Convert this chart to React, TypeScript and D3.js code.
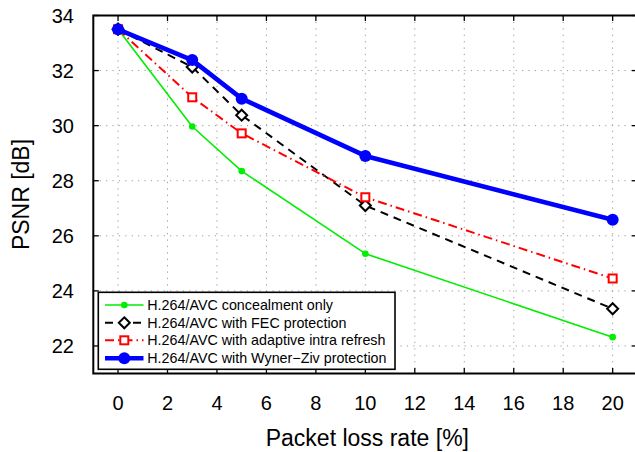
import React from "react";
import * as d3 from "d3";

const lossRates = [0, 3, 5, 10, 20];
const concealmentOnly = [33.5, 29.97, 28.35, 25.35, 22.32];
const fecProtection = [33.5, 32.13, 30.38, 27.1, 23.35];
const adaptiveIntra = [33.5, 31.03, 29.72, 27.4, 24.45];
const wynerZiv = [33.5, 32.38, 30.98, 28.9, 26.58];
const xTicks = [0, 2, 4, 6, 8, 10, 12, 14, 16, 18, 20];
const yTicks = [22, 24, 26, 28, 30, 32, 34];
const seriesNames = [
  "H.264/AVC concealment only",
  "H.264/AVC with FEC protection",
  "H.264/AVC with adaptive intra refresh",
  "H.264/AVC with Wyner\u2212Ziv protection",
];

const W = 635;
const H = 452;
const FONT = "'Liberation Sans', Arial, sans-serif";

export default function App() {
  const x = d3.scaleLinear().domain([-1, 21]).range([93.3, 637.4]);
  const y = d3.scaleLinear().domain([21, 34]).range([373.5, 15.5]);
  const line = d3
    .line<number>()
    .x((_, i) => x(lossRates[i]))
    .y((d) => y(d));

  const series = [
    { name: seriesNames[0], values: concealmentOnly, color: "#00ee00", width: 1.6, dash: "", marker: "dot" },
    { name: seriesNames[1], values: fecProtection, color: "#000000", width: 2, dash: "8,6", marker: "diamond" },
    { name: seriesNames[2], values: adaptiveIntra, color: "#ff0000", width: 2, dash: "9,4,1.5,4", marker: "square" },
    { name: seriesNames[3], values: wynerZiv, color: "#0000ff", width: 4.6, dash: "", marker: "circle" },
  ];

  const marker = (s: any, cx: number, cy: number, key: string) => {
    if (s.marker === "dot") return <circle key={key} cx={cx} cy={cy} r={3.3} fill={s.color} />;
    if (s.marker === "circle") return <circle key={key} cx={cx} cy={cy} r={6} fill={s.color} />;
    if (s.marker === "diamond")
      return (
        <path
          key={key}
          d={`M${cx},${cy - 5.5}L${cx + 5.5},${cy}L${cx},${cy + 5.5}L${cx - 5.5},${cy}Z`}
          fill="white"
          stroke={s.color}
          strokeWidth={2}
        />
      );
    return (
      <rect key={key} x={cx - 4} y={cy - 4} width={8} height={8} fill="white" stroke={s.color} strokeWidth={2} />
    );
  };

  const [x0, x1] = x.range();
  const [y0, y1] = y.range();
  const legendRows = [305, 322.8, 340.3, 358.3];

  return (
    <svg width={W} height={H} style={{ position: "absolute", left: 0, top: 0, background: "white" }} fontFamily={FONT}>
      <rect width={W} height={H} fill="white" />
      {/* grid */}
      {xTicks.map((t) => (
        <line key={"gx" + t} x1={x(t)} x2={x(t)} y1={y1} y2={y0} stroke="#999" strokeWidth={1} strokeDasharray="1.2,5.2" />
      ))}
      {yTicks.map((t) => (
        <line key={"gy" + t} x1={x0} x2={x1} y1={y(t)} y2={y(t)} stroke="#999" strokeWidth={1} strokeDasharray="1.2,5.2" />
      ))}
      {/* ticks */}
      {xTicks.map((t) => (
        <g key={"tx" + t}>
          <line x1={x(t)} x2={x(t)} y1={y0} y2={y0 - 5.5} stroke="black" strokeWidth={1.3} />
          <line x1={x(t)} x2={x(t)} y1={y1} y2={y1 + 5.5} stroke="black" strokeWidth={1.3} />
          <text x={x(t)} y={410} textAnchor="middle" fontSize={20} fill="black">
            {t}
          </text>
        </g>
      ))}
      {yTicks.map((t) => (
        <g key={"ty" + t}>
          <line x1={x0} x2={x0 + 5.5} y1={y(t)} y2={y(t)} stroke="black" strokeWidth={1.3} />
          <line x1={x1} x2={x1 - 5.5} y1={y(t)} y2={y(t)} stroke="black" strokeWidth={1.3} />
          <text x={74} y={y(t) + 7} textAnchor="end" fontSize={20} fill="black">
            {t}
          </text>
        </g>
      ))}
      {/* series */}
      {series.map((s) => (
        <g key={s.name}>
          <path
            d={line(s.values) || ""}
            fill="none"
            stroke={s.color}
            strokeWidth={s.width}
            strokeDasharray={s.dash || undefined}
            strokeLinejoin="round"
          />
          {s.values.map((v, i) => marker(s, x(lossRates[i]), y(v), s.name + i))}
        </g>
      ))}
      {/* frame */}
      <rect x={x0} y={y1} width={x1 - x0} height={y0 - y1} fill="none" stroke="black" strokeWidth={2} />
      {/* legend */}
      <rect x={98.3} y={292.3} width={296.7} height={77} fill="white" stroke="black" strokeWidth={1.6} />
      {series.map((s, i) => (
        <g key={"lg" + i}>
          <line
            x1={105}
            x2={143.5}
            y1={legendRows[i]}
            y2={legendRows[i]}
            stroke={s.color}
            strokeWidth={s.width}
            strokeDasharray={s.dash || undefined}
          />
          {marker(s, 124.3, legendRows[i], "lm" + i)}
          <text x={147.3} y={legendRows[i] + 5} fontSize={14.3} fill="black">
            {s.name}
          </text>
        </g>
      ))}
      {/* axis labels */}
      <text x={(x(0) + x(20)) / 2 + 2} y={446} textAnchor="middle" fontSize={23} fill="black">
        Packet loss rate [%]
      </text>
      <text
        transform={`translate(29,${(y0 + y1) / 2}) rotate(-90)`}
        textAnchor="middle"
        fontSize={23}
        fill="black"
      >
        PSNR [dB]
      </text>
    </svg>
  );
}
